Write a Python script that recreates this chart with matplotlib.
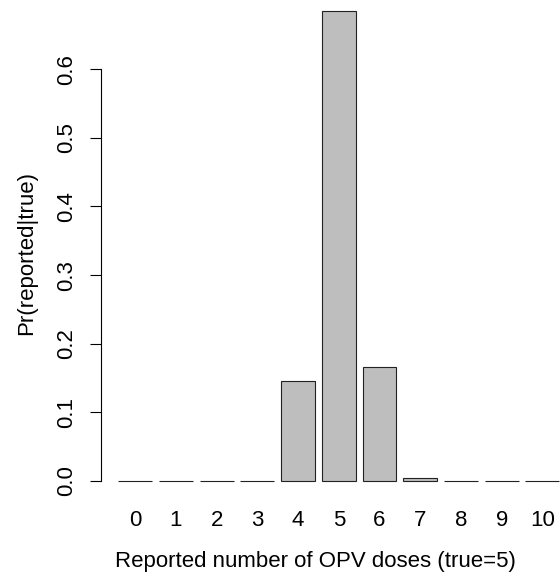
import numpy as np
import matplotlib
matplotlib.use('Agg')
import matplotlib.pyplot as plt

# reported number of doses and Pr(reported | true=5)
doses = ['0', '1', '2', '3', '4', '5', '6', '7', '8', '9', '10']
prob = [0.0, 0.0, 0.0, 0.0005, 0.146, 0.685, 0.166, 0.0044, 0.0, 0.0, 0.0]
yticks = [0.0, 0.1, 0.2, 0.3, 0.4, 0.5, 0.6]

plt.rcParams['font.family'] = ['Liberation Sans', 'DejaVu Sans']

W, H = 560, 579
fig = plt.figure(figsize=(W / 100, H / 100), dpi=100)
ax = fig.add_axes([100.6 / W, 79.2 / H, 476.4 / W, 507.8 / H])

# R barplot layout: width 1, space 0.2
xs = 0.7 + 1.2 * np.arange(len(doses))
ax.bar(xs, prob, width=1.0, color='#BEBEBE', edgecolor='#222222', linewidth=0.8)

lo, hi = 0.2, xs[-1] + 0.5
ax.set_xlim(lo - 0.04 * (hi - lo), hi + 0.04 * (hi - lo))
ymax = max(prob)
ax.set_ylim(-0.04 * ymax, ymax * 1.04)

for s in ['top', 'right', 'bottom']:
    ax.spines[s].set_visible(False)
ax.spines['left'].set_bounds(0, 0.6)
ax.spines['left'].set_linewidth(0.8)

ax.set_yticks(yticks)
ax.set_yticklabels(['%.1f' % v for v in yticks], rotation=90, va='center', fontsize=16)
ax.tick_params(axis='y', length=7.7, width=0.8, pad=8.9)

ax.set_xticks(xs)
ax.set_xticklabels(doses, fontsize=16)
ax.tick_params(axis='x', length=0, pad=7)

fig.text(315 / W, (H - 566.7) / H, 'Reported number of OPV doses (true=5)',
         ha='center', va='baseline', fontsize=16)
fig.text(32 / W, (H - 253) / H, 'Pr(reported|true)', rotation=90,
         ha='center', va='baseline', fontsize=16, rotation_mode='anchor')

fig.savefig('out.png', dpi=100)
